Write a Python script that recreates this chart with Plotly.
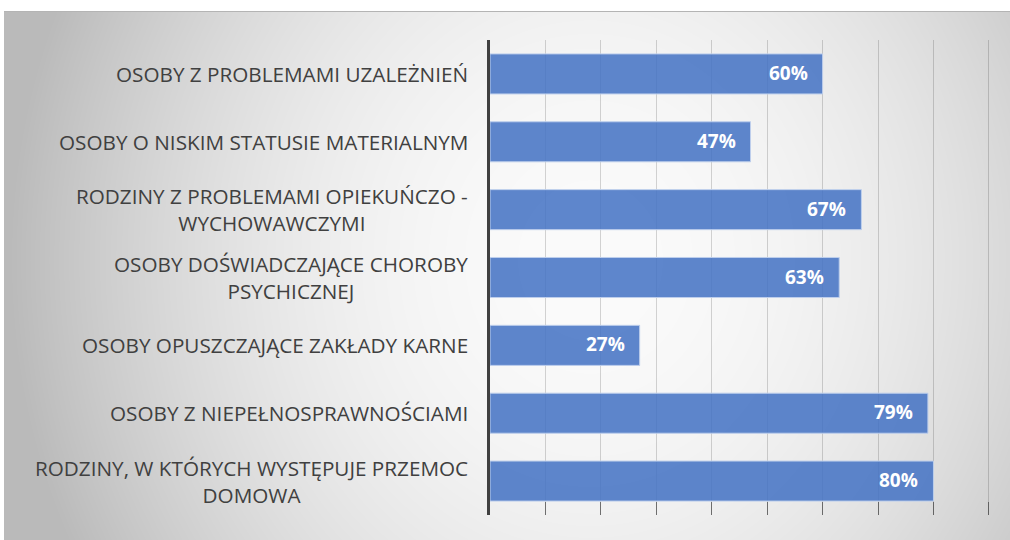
import base64
import struct
import zlib

import numpy as np
import plotly.graph_objects as go

# --- data -------------------------------------------------------------
categories = [
    "OSOBY Z PROBLEMAMI UZALEŻNIEŃ",
    "OSOBY O NISKIM STATUSIE MATERIALNYM",
    "RODZINY Z PROBLEMAMI OPIEKUŃCZO - WYCHOWAWCZYMI",
    "OSOBY DOŚWIADCZAJĄCE CHOROBY PSYCHICZNEJ",
    "OSOBY OPUSZCZAJĄCE ZAKŁADY KARNE",
    "OSOBY Z NIEPEŁNOSPRAWNOŚCIAMI",
    "RODZINY, W KTÓRYCH WYSTĘPUJE PRZEMOC DOMOWA",
]
# how each category label is broken into lines
label_lines = [
    ["OSOBY Z PROBLEMAMI UZALEŻNIEŃ"],
    ["OSOBY O NISKIM STATUSIE MATERIALNYM"],
    ["RODZINY Z PROBLEMAMI OPIEKUŃCZO -", "WYCHOWAWCZYMI"],
    ["OSOBY DOŚWIADCZAJĄCE CHOROBY", "PSYCHICZNEJ"],
    ["OSOBY OPUSZCZAJĄCE ZAKŁADY KARNE"],
    ["OSOBY Z NIEPEŁNOSPRAWNOŚCIAMI"],
    ["RODZINY, W KTÓRYCH WYSTĘPUJE PRZEMOC", "DOMOWA"],
]
shares = [0.60, 0.47, 0.67, 0.63, 0.27, 0.79, 0.80]

# --- geometry ---------------------------------------------------------
W, H = 1010, 540
M_L, M_R, M_T, M_B = 490, 20, 40, 25
PW, PH = W - M_L - M_R, H - M_T - M_B
X_MAX = 0.902

TEXT_FONT = "Open Sans"
LABEL_SIZE = 20.7
LABEL_COLOR = "#404040"


def gray_png_uri(img):
    """Encode a 2-D uint8 array as a grayscale PNG data URI."""
    h, w = img.shape
    raw = b"".join(b"\x00" + img[r].tobytes() for r in range(h))

    def chunk(tag, data):
        c = struct.pack(">I", len(data)) + tag + data
        return c + struct.pack(">I", zlib.crc32(tag + data) & 0xFFFFFFFF)

    png = b"\x89PNG\r\n\x1a\n"
    png += chunk(b"IHDR", struct.pack(">IIBBBBB", w, h, 8, 0, 0, 0, 0))
    png += chunk(b"IDAT", zlib.compress(raw, 9))
    png += chunk(b"IEND", b"")
    return "data:image/png;base64," + base64.b64encode(png).decode()


# radial grey-to-white chart background
BG_X0, BG_Y0 = 4, 11
bw, bh = W - BG_X0, H - BG_Y0
yy, xx = np.mgrid[0:bh, 0:bw].astype(float)
xx += BG_X0
yy += BG_Y0
d2 = ((xx - 590) / 560.0) ** 2 + ((yy - 260) / 620.0) ** 2
bg = np.clip(251 - 60 * d2, 186, 251).astype(np.uint8)
bg[0, :] = 180
bg_uri = gray_png_uri(bg)

# --- figure -----------------------------------------------------------
ypos = list(range(len(categories)))

fig = go.Figure()
fig.add_trace(
    go.Bar(
        x=shares,
        y=ypos,
        orientation="h",
        width=0.59,
        marker=dict(
            color="rgba(68,114,196,0.86)",
            line=dict(color="rgba(190,207,236,1)", width=1),
        ),
        hovertext=categories,
        hoverinfo="text+x",
    )
)

annotations = []
# category labels, each line centred under the longest one
for i, lines in enumerate(label_lines):
    annotations.append(
        dict(
            x=0, y=i, xref="x", yref="y",
            text="<br>".join(lines),
            xanchor="right", yanchor="middle", xshift=-20, yshift=0,
            showarrow=False, align="center",
            font=dict(family=TEXT_FONT, size=LABEL_SIZE, color=LABEL_COLOR),
        )
    )

# value labels at the inner end of each bar
for i, v in enumerate(shares):
    annotations.append(
        dict(
            x=v, y=i, xref="x", yref="y", text=f"{round(v * 100)}%",
            xanchor="right", yanchor="middle", xshift=-13, yshift=1,
            showarrow=False,
            font=dict(family=TEXT_FONT, size=19, color="white", weight="bold"),
        )
    )

fig.update_layout(
    width=W,
    height=H,
    margin=dict(l=M_L, r=M_R, t=M_T, b=M_B, pad=0),
    paper_bgcolor="white",
    plot_bgcolor="rgba(0,0,0,0)",
    showlegend=False,
    annotations=annotations,
    images=[
        dict(
            source=bg_uri,
            xref="paper", yref="paper",
            x=(BG_X0 - M_L) / PW, y=(H - M_B - BG_Y0) / PH,
            sizex=bw / PW, sizey=bh / PH,
            xanchor="left", yanchor="top",
            sizing="stretch", layer="below",
        )
    ],
    xaxis=dict(
        range=[0, X_MAX],
        dtick=0.1,
        tick0=0,
        showgrid=True,
        gridcolor="rgba(0,0,0,0.16)",
        gridwidth=1,
        zeroline=False,
        showline=False,
        showticklabels=False,
        ticks="inside",
        ticklen=13,
        tickwidth=1,
        tickcolor="rgba(0,0,0,0.45)",
        fixedrange=True,
    ),
    yaxis=dict(
        range=[len(categories) - 0.5, -0.5],
        showgrid=False,
        zeroline=False,
        showline=True,
        linecolor="#404040",
        linewidth=3,
        showticklabels=False,
        ticks="",
        fixedrange=True,
    ),
)

fig.write_html("out.html")
